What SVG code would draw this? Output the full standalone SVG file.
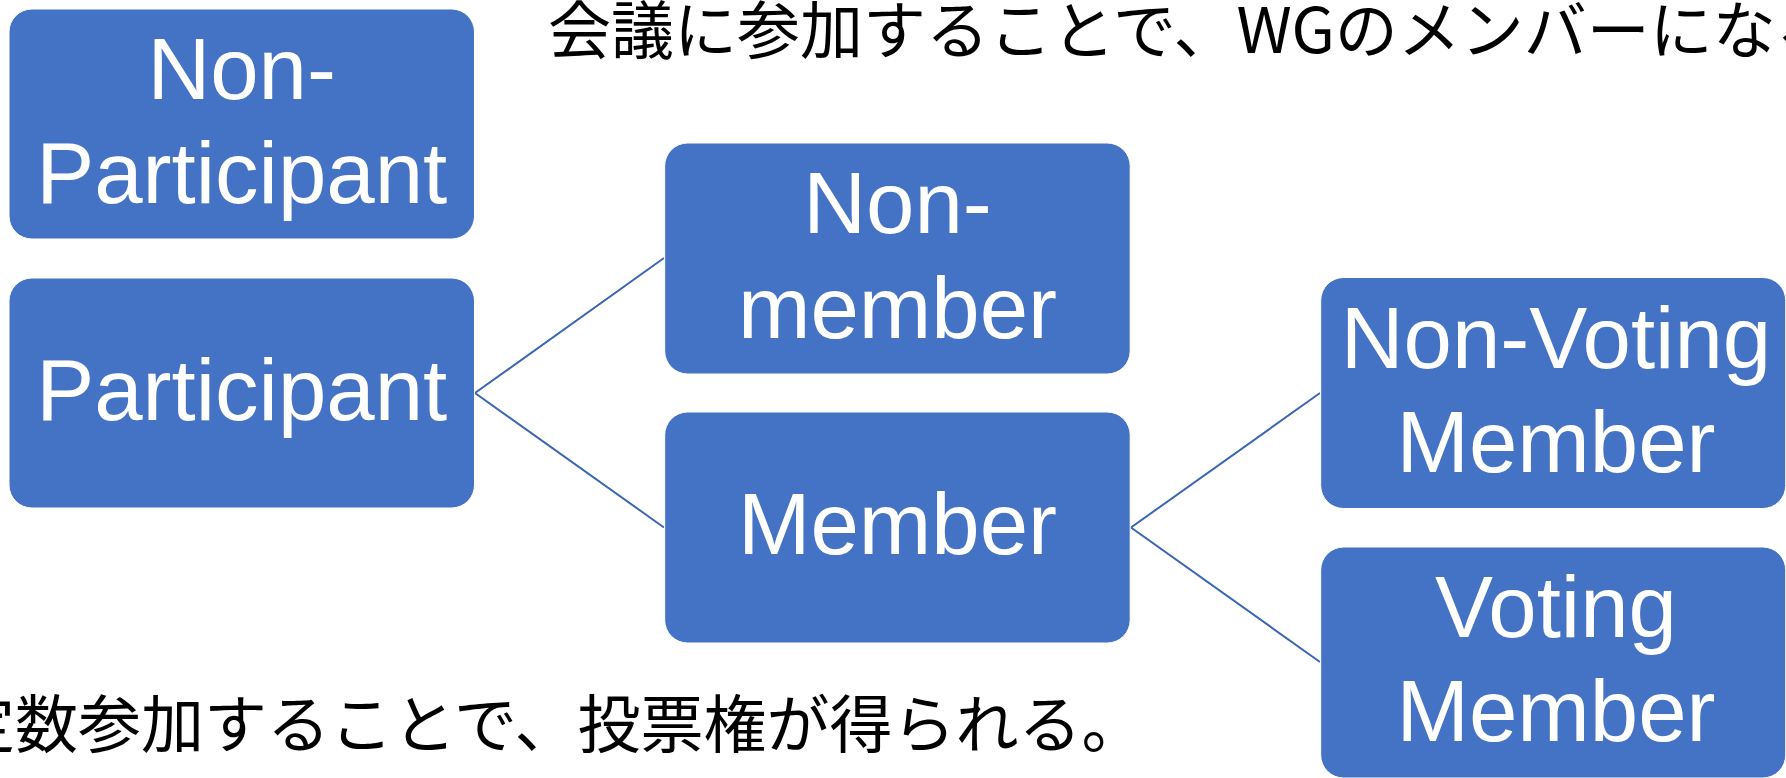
<svg xmlns="http://www.w3.org/2000/svg" width="1786" height="778" viewBox="0 0 1786 778">
  <style>
    .box { fill: #4472C4; stroke: #ffffff; stroke-width: 1; }
    .lbl { fill: #ffffff; font-family: "Liberation Sans", Arial, sans-serif; font-size: 87px; text-anchor: middle; }
    .jp { fill: #000000; font-family: "Noto Sans CJK JP", "Noto Sans CJK SC", sans-serif; font-size: 63px; }
    .conn { stroke: #3C66B3; stroke-width: 2; fill: none; }
  </style>
  <rect width="1786" height="778" fill="#ffffff"/>

  <g id="connectors">
    <polyline class="conn" points="664,258 475,393 664,527.5"/>
    <polyline class="conn" points="1320,393 1131,527.5 1320,662"/>
  </g>

  <g id="node-non-participant">
    <rect class="box" x="9" y="9" width="465.5" height="230" rx="23" ry="23"/>
    <text class="lbl" x="241.7" y="99">Non-</text>
    <text class="lbl" x="241.7" y="203">Participant</text>
  </g>

  <g id="node-participant">
    <rect class="box" x="9" y="278" width="465.5" height="230" rx="23" ry="23"/>
    <text class="lbl" x="241.7" y="420">Participant</text>
  </g>

  <g id="node-non-member">
    <rect class="box" x="664.7" y="143" width="465.5" height="231" rx="23" ry="23"/>
    <text class="lbl" x="897.5" y="233">Non-</text>
    <text class="lbl" x="897.5" y="338">member</text>
  </g>

  <g id="node-member">
    <rect class="box" x="664.7" y="412" width="465.5" height="231" rx="23" ry="23"/>
    <text class="lbl" x="897.5" y="554">Member</text>
  </g>

  <g id="node-non-voting-member">
    <rect class="box" x="1320.7" y="277.5" width="465" height="231" rx="23" ry="23"/>
    <text class="lbl" x="1556" y="368">Non-Voting</text>
    <text class="lbl" x="1556" y="472">Member</text>
  </g>

  <g id="node-voting-member">
    <rect class="box" x="1320.7" y="547" width="465" height="231" rx="23" ry="23"/>
    <text class="lbl" x="1556" y="637">Voting</text>
    <text class="lbl" x="1556" y="741">Member</text>
  </g>

  <g id="notes">
    <text class="jp" x="548" y="53">会議に参加することで、WGのメンバーになる</text>
    <text class="jp" x="-48" y="747">定数参加することで、投票権が得られる。</text>
  </g>
</svg>
